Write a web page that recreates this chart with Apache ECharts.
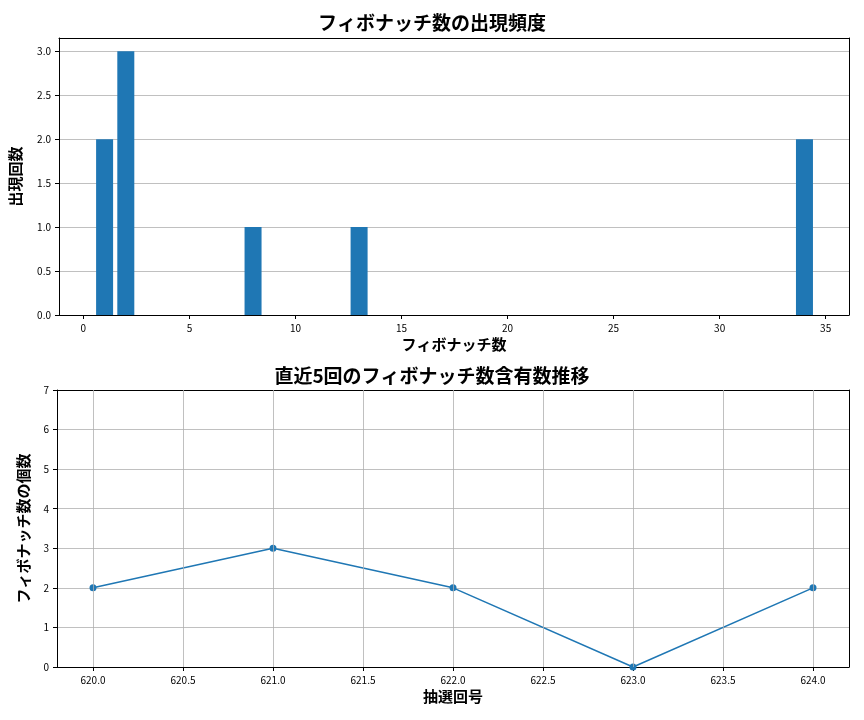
<!DOCTYPE html>
<html><head><meta charset="utf-8">
<script src="https://cdn.jsdelivr.net/npm/echarts@6/dist/echarts.min.js"></script>
<style>html,body{margin:0;padding:0;background:#fff}#c{width:864px;height:720px}</style>
</head><body><div id="c"></div>
<script>
const fibNumbers = [1, 2, 8, 13, 34];
const fibCounts = [2, 3, 1, 1, 2];
const topXTicks = [0, 5, 10, 15, 20, 25, 30, 35];
const drawNos = [620, 621, 622, 623, 624];
const fibPerDraw = [2, 3, 2, 0, 2];
const bottomXTicks = [620, 620.5, 621, 621.5, 622, 622.5, 623, 623.5, 624];

const F = '"Noto Sans CJK JP", "DejaVu Sans", sans-serif';
const chart = echarts.init(document.getElementById('c'));
const blue = '#1f77b4';
const axisCommon = {
  axisLine: {show: true, onZero: false, lineStyle: {color: '#000'}},
  axisTick: {show: true, length: 4, lineStyle: {color: '#000'}},
  axisLabel: {color: '#000', fontSize: 10, fontFamily: F}
};
const nameStyle = {fontFamily: F, fontSize: 15, color: '#000', fontWeight: 'bold'};
const frame = (type, gridIndex, position, extra) => Object.assign({
  type: 'value', gridIndex, position,
  axisLine: {show: true, onZero: false, lineStyle: {color: '#000'}},
  axisTick: {show: false}, axisLabel: {show: false}, splitLine: {show: false}
}, extra);
chart.setOption({
  animation: false,
  title: [
    {text: 'フィボナッチ数の出現頻度', left: 'center', top: 8, textStyle: {fontFamily: F, fontSize: 19, fontWeight: 'bold', color: '#000'}},
    {text: '直近5回のフィボナッチ数含有数推移', left: 'center', top: 361, textStyle: {fontFamily: F, fontSize: 19, fontWeight: 'bold', color: '#000'}}
  ],
  grid: [
    {left: 57, right: 15, top: 38, height: 277},
    {left: 57, right: 15, top: 390, height: 277}
  ],
  xAxis: [
    Object.assign({}, axisCommon, {
      type: 'value', gridIndex: 0, min: -1.15, max: 36.1, position: 'bottom',
      name: 'フィボナッチ数', nameLocation: 'middle', nameGap: 22, nameTextStyle: nameStyle,
      splitLine: {show: false},
      axisTick: {show: true, length: 4, lineStyle: {color: '#000'}, customValues: topXTicks},
      axisLabel: {color: '#000', fontSize: 10, fontFamily: F, customValues: topXTicks, formatter: v => String(v)}
    }),
    Object.assign({}, axisCommon, {
      type: 'value', gridIndex: 1, min: 619.8, max: 624.2, position: 'bottom',
      name: '抽選回号', nameLocation: 'middle', nameGap: 22, nameTextStyle: nameStyle,
      splitLine: {show: false},
      axisTick: {show: true, length: 4, lineStyle: {color: '#000'}, customValues: bottomXTicks},
      axisLabel: {color: '#000', fontSize: 10, fontFamily: F, customValues: bottomXTicks, formatter: v => v.toFixed(1)}
    }),
    frame('x', 0, 'top', {min: 0, max: 1}),
    frame('x', 1, 'top', {min: 0, max: 1})
  ],
  yAxis: [
    Object.assign({}, axisCommon, {
      type: 'value', gridIndex: 0, min: 0, max: 3.15, interval: 0.5, position: 'left',
      name: '出現回数', nameLocation: 'middle', nameGap: 36, nameTextStyle: nameStyle,
      splitLine: {show: true, lineStyle: {color: '#b0b0b0', width: 0.8}},
      axisLabel: {color: '#000', fontSize: 10, fontFamily: F, formatter: v => (v > 3.01 ? '' : v.toFixed(1)), showMaxLabel: false}
    }),
    Object.assign({}, axisCommon, {
      type: 'value', gridIndex: 1, min: 0, max: 7, interval: 1, position: 'left',
      name: 'フィボナッチ数の個数', nameLocation: 'middle', nameGap: 26, nameTextStyle: nameStyle,
      splitLine: {show: true, lineStyle: {color: '#b0b0b0', width: 0.8}}
    }),
    frame('y', 0, 'right', {min: 0, max: 1}),
    frame('y', 1, 'right', {min: 0, max: 1})
  ],
  series: [
    {type: 'bar', xAxisIndex: 0, yAxisIndex: 0, barWidth: 17,
     itemStyle: {color: blue},
     data: fibNumbers.map((x, i) => [x, fibCounts[i]])},
    {type: 'line', xAxisIndex: 1, yAxisIndex: 1, symbol: 'circle', symbolSize: 7,
     lineStyle: {color: blue, width: 1.5}, itemStyle: {color: blue},
     data: drawNos.map((x, i) => [x, fibPerDraw[i]]),
     markLine: {silent: true, symbol: 'none', label: {show: false},
       lineStyle: {color: '#b0b0b0', width: 0.8, type: 'solid'},
       data: bottomXTicks.map(v => ({xAxis: v}))}}
  ]
});
</script></body></html>
